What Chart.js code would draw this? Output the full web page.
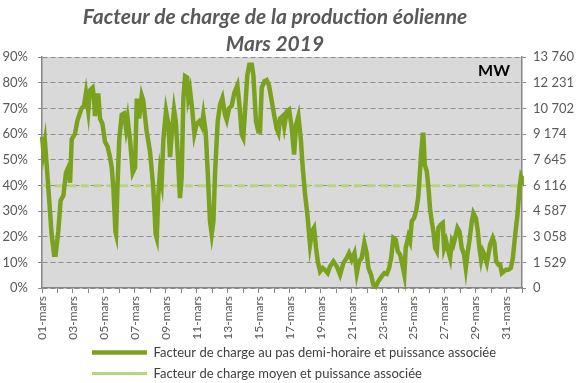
<!DOCTYPE html>
<html>
<head>
<meta charset="utf-8">
<script src="https://cdn.jsdelivr.net/npm/chart.js@4/dist/chart.umd.min.js"></script>
<style>
  html, body { margin: 0; padding: 0; background: #ffffff; }
  #wrap { width: 580px; height: 383px; }
</style>
</head>
<body>
<div id="wrap"><canvas id="c" width="580" height="383"></canvas></div>
<script>
// ---- Data ----
// x position in days since 01-mars 00:00
const dayPos = [
  0.00, 0.09, 0.19, 0.41, 0.62, 0.78, 0.88, 1.05, 1.20, 1.38, 1.55, 1.70, 1.81, 1.92,
  2.13, 2.28, 2.41, 2.56, 2.71, 2.84, 2.99, 3.10, 3.27, 3.36, 3.42, 3.53, 3.64, 3.75,
  3.90, 4.07, 4.24, 4.39, 4.50, 4.61, 4.74, 4.78, 4.87, 4.99, 5.15, 5.30, 5.43, 5.53,
  5.68, 5.86, 6.01, 6.12, 6.18, 6.27, 6.44, 6.54, 6.76, 6.98, 7.19, 7.34, 7.41, 7.51,
  7.62, 7.73, 7.84, 8.01, 8.16, 8.27, 8.38, 8.53, 8.64, 8.76, 8.91, 9.02, 9.13, 9.24,
  9.37, 9.45, 9.56, 9.71, 9.84, 9.99, 10.16, 10.32, 10.42, 10.57, 10.70, 10.85, 10.96,
  11.07, 11.18, 11.35, 11.50, 11.65, 11.82, 11.93, 12.08, 12.25, 12.42, 12.62, 12.75,
  12.90, 13.00, 13.11, 13.26, 13.39, 13.55, 13.65, 13.82, 13.97, 14.08, 14.19, 14.36,
  14.51, 14.66, 14.84, 14.99, 15.16, 15.27, 15.37, 15.55, 15.65, 15.81, 15.96, 16.13,
  16.28, 16.41, 16.56, 16.71, 16.84, 16.99, 17.14, 17.31, 17.44, 17.57, 17.70, 17.81,
  17.96, 18.13, 18.28, 18.45, 18.60, 18.82, 19.04, 19.25, 19.46, 19.68, 19.83, 20.00,
  20.18, 20.33, 20.48, 20.65, 20.82, 20.97, 21.08, 21.25, 21.40, 21.55, 21.72, 21.94,
  22.11, 22.27, 22.42, 22.55, 22.69, 22.85, 22.98, 23.13, 23.27, 23.40, 23.49, 23.66,
  23.77, 23.88, 24.03, 24.16, 24.29, 24.37, 24.48, 24.59, 24.63, 24.72, 24.85, 24.96,
  25.06, 25.17, 25.28, 25.39, 25.50, 25.60, 25.76, 25.88, 25.97, 26.10, 26.25, 26.36,
  26.47, 26.57, 26.68, 26.83, 26.96, 27.11, 27.26, 27.37, 27.47, 27.60, 27.76, 27.86,
  28.02, 28.15, 28.25, 28.36, 28.47, 28.57, 28.73, 28.83, 28.94, 29.11, 29.22, 29.33,
  29.48, 29.59, 29.70, 29.84, 29.97, 30.12, 30.28, 30.41, 30.56, 30.71, 30.84, 30.94,
  30.98
];
// load factor (%) at each position
const loadFactor = [
  59.0, 53.0, 57.0, 39.0, 21.0, 13.0, 13.0, 22.0, 34.0, 36.0, 45.0, 47.0, 41.0, 58.0,
  60.0, 65.0, 67.5, 70.0, 71.0, 76.0, 69.0, 77.0, 78.0, 74.0, 67.0, 75.0, 75.0, 66.0,
  64.0, 57.0, 55.0, 51.0, 47.0, 39.0, 22.0, 21.0, 39.0, 58.0, 67.5, 68.0, 62.0, 66.0,
  58.0, 45.0, 47.0, 73.0, 73.0, 66.0, 75.0, 73.0, 61.0, 53.0, 39.0, 21.0, 19.5, 36.0,
  45.5, 41.5, 58.0, 69.0, 64.0, 51.0, 60.0, 69.5, 65.0, 53.0, 35.0, 43.0, 74.0, 82.5,
  82.0, 74.0, 77.0, 69.0, 60.0, 64.0, 65.0, 63.0, 67.5, 61.0, 45.5, 26.0, 21.0,
  26.0, 45.5, 65.0, 71.5, 74.0, 67.5, 65.5, 70.0, 71.0, 76.0, 79.0, 71.4,
  59.7, 58.4, 68.8, 83.0, 87.0, 87.0, 83.0, 65.0, 61.0, 61.0, 78.0, 80.5,
  81.0, 79.0, 72.7, 67.5, 62.0, 60.4, 66.0, 67.0, 63.0, 68.8, 69.5, 62.3,
  52.0, 63.6, 67.0, 58.4, 46.8, 36.4, 28.6, 16.9, 22.0, 23.4, 15.6, 10.4,
  6.5, 7.8, 7.0, 5.8, 8.4, 10.4, 8.4, 5.2, 9.7, 11.7, 13.6, 11.0,
  13.6, 5.8, 10.4, 11.7, 17.5, 13.6, 7.8, 5.2, 1.3, 0.6, 2.6, 4.5,
  5.8, 5.5, 7.8, 11.7, 19.5, 18.8, 14.3, 13.0, 9.1, 5.2, 15.6, 20.0,
  18.2, 26.0, 27.3, 29.9, 35.0, 41.6, 52.0, 59.7, 59.7, 48.0, 45.5, 39.0,
  31.0, 26.0, 22.0, 15.6, 14.3, 23.4, 24.7, 25.3, 15.6, 18.2, 14.3, 11.7,
  18.2, 16.9, 19.5, 23.4, 22.0, 15.6, 13.0, 7.8, 13.0, 18.2, 26.0, 29.2,
  27.3, 22.0, 15.6, 11.0, 14.3, 13.0, 9.7, 13.0, 16.9, 19.5, 17.5, 10.4,
  9.1, 9.1, 5.8, 6.5, 7.1, 7.1, 7.8, 11.7, 20.8, 28.6, 39.0, 43.5,
  43.0
];
// monthly mean load factor (%)
const meanDays = [0, 31];
const meanFactor = [39.8, 39.8];

const xTickLabels = ['01-mars','03-mars','05-mars','07-mars','09-mars','11-mars','13-mars','15-mars',
                     '17-mars','19-mars','21-mars','23-mars','25-mars','27-mars','29-mars','31-mars'];
const mwTicks = [0, 1529, 3058, 4587, 6116, 7645, 9174, 10702, 12231, 13760];
const mwMax = 13760;

const seriesNames = [
  'Facteur de charge au pas demi-horaire et puissance associée',
  'Facteur de charge moyen et puissance associée'
];
const titleLines = ['Facteur de charge de la production éolienne', 'Mars 2019'];

// ---- Chart ----
const FONT = 'Lato, "Open Sans", "DejaVu Sans", sans-serif';
const TXT = '#595959';

const layoutFix = {
  id: 'layoutFix',
  afterLayout(chart) {
    if (chart.titleBlock) {
      chart.titleBlock.left = 0;
      chart.titleBlock.right = 550;
      chart.titleBlock.top = 3;
    }
    if (chart.legend) {
      chart.legend.left = 84;
      chart.legend.top = 338;
    }
  },
  beforeDraw(chart) {
    const {ctx, chartArea: a} = chart;
    ctx.save();
    ctx.fillStyle = '#ffffff';
    ctx.fillRect(0, 0, chart.width, chart.height);
    ctx.fillStyle = '#D9D9D9';
    ctx.fillRect(a.left, a.top, a.right - a.left, a.bottom - a.top);
    ctx.restore();
  },
  afterDraw(chart) {
    const {ctx, chartArea: a} = chart;
    ctx.save();
    ctx.font = 'bold 16px ' + FONT;
    ctx.fillStyle = '#000000';
    ctx.textAlign = 'right';
    ctx.textBaseline = 'middle';
    ctx.fillText('MW', a.right - 12, a.top + 14);
    ctx.restore();
  }
};

new Chart(document.getElementById('c'), {
  type: 'line',
  data: {
    datasets: [
      {
        label: seriesNames[0],
        data: dayPos.map((d, i) => ({x: d, y: loadFactor[i]})),
        borderColor: '#7BA21E',
        backgroundColor: '#7BA21E',
        borderWidth: 4.5,
        borderJoin: 'round',
        pointRadius: 0,
        tension: 0,
        clip: false,
        yAxisID: 'y'
      },
      {
        label: seriesNames[1],
        data: meanDays.map((d, i) => ({x: d, y: meanFactor[i]})),
        borderColor: '#B5D67E',
        backgroundColor: '#B5D67E',
        borderWidth: 3,
        borderDash: [8, 5],
        pointRadius: 0,
        tension: 0,
        yAxisID: 'y'
      }
    ]
  },
  options: {
    responsive: false,
    animation: false,
    devicePixelRatio: 1,
    layout: { padding: { top: 2, left: 0, right: 0, bottom: -9 } },
    plugins: {
      title: {
        display: true,
        text: titleLines,
        color: TXT,
        font: { family: FONT, size: 21, weight: 'bold', style: 'italic', lineHeight: 1.31 },
        padding: { top: 0, bottom: 0 }
      },
      legend: {
        display: true,
        position: 'bottom',
        align: 'start',
        labels: {
          usePointStyle: true,
          pointStyle: 'line',
          pointStyleWidth: 55,
          padding: 8,
          color: '#404040',
          font: { family: FONT, size: 13 }
        }
      },
      tooltip: { enabled: false }
    },
    scales: {
      x: {
        type: 'linear',
        min: 0,
        max: 31,
        afterFit(s) { s.height = 52; },
        ticks: {
          stepSize: 1,
          autoSkip: false,
          maxRotation: 90,
          minRotation: 90,
          padding: 3,
          color: TXT,
          font: { family: FONT, size: 12 },
          callback: (v) => (v % 2 === 0 && v <= 30) ? xTickLabels[v / 2] : ''
        },
        grid: { display: true, drawOnChartArea: false, drawTicks: true, tickLength: 5, color: '#868686', tickBorderDash: [] },
        border: { display: true, color: '#868686', width: 1.5 }
      },
      y: {
        position: 'left',
        min: 0,
        max: 90,
        afterFit(s) { s.width = 42; },
        ticks: {
          stepSize: 10,
          padding: 10,
          color: TXT,
          font: { family: FONT, size: 13 },
          callback: (v) => v + '%'
        },
        grid: { color: '#8C8C8C', lineWidth: 1, drawTicks: true, tickLength: 4, tickBorderDash: [] },
        border: { display: true, color: '#868686', width: 1.5, dash: [5, 3] }
      },
      y2: {
        position: 'right',
        min: 0,
        max: mwMax,
        afterFit(s) { s.width = 58; },
        afterBuildTicks(s) { s.ticks = mwTicks.map(v => ({ value: v })); },
        ticks: {
          padding: 7,
          color: TXT,
          font: { family: FONT, size: 13 },
          callback: (v) => String(v).replace(/\B(?=(\d{3})+(?!\d))/g, ' ')
        },
        grid: { drawOnChartArea: false, drawTicks: true, tickLength: 4, color: '#868686', tickBorderDash: [] },
        border: { display: true, color: '#868686', width: 1.5 }
      }
    }
  },
  plugins: [layoutFix]
});
</script>
</body>
</html>
